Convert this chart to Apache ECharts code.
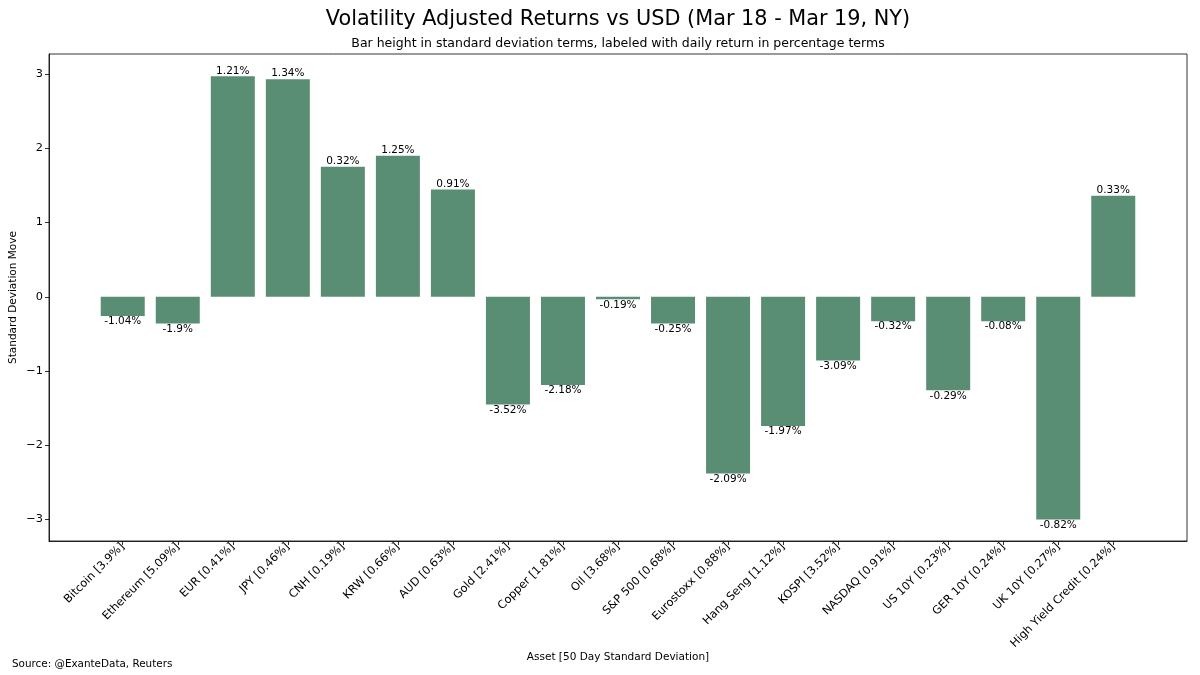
<!DOCTYPE html>
<html>
<head>
<meta charset="utf-8">
<script src="https://cdn.jsdelivr.net/npm/echarts@6/dist/echarts.min.js"></script>
<style>html,body{margin:0;padding:0;background:#fff}#c{width:1200px;height:675px}</style>
</head>
<body>
<div id="c"></div>
<script>
const categories = ['Bitcoin [3.9%]','Ethereum [5.09%]','EUR [0.41%]','JPY [0.46%]','CNH [0.19%]','KRW [0.66%]','AUD [0.63%]','Gold [2.41%]','Copper [1.81%]','Oil [3.68%]','S&P 500 [0.68%]','Eurostoxx [0.88%]','Hang Seng [1.12%]','KOSPI [3.52%]','NASDAQ [0.91%]','US 10Y [0.23%]','GER 10Y [0.24%]','UK 10Y [0.27%]','High Yield Credit [0.24%]'];
const sdMoves = [-0.26,-0.36,2.97,2.93,1.75,1.90,1.445,-1.45,-1.19,-0.035,-0.36,-2.38,-1.74,-0.86,-0.33,-1.26,-0.33,-3.00,1.36];
const dailyReturns = [-1.04,-1.9,1.21,1.34,0.32,1.25,0.91,-3.52,-2.18,-0.19,-0.25,-2.09,-1.97,-3.09,-0.32,-0.29,-0.08,-0.82,0.33];
const yTicks = [-3,-2,-1,0,1,2,3];

const font = 'DejaVu Sans';
const chart = echarts.init(document.getElementById('c'));
const xIdx = categories.map((_, i) => i);
const barData = sdMoves.map((v, i) => ({
  value: [i, v],
  label: {
    show: true,
    position: v >= 0 ? 'top' : 'bottom',
    distance: 0,
    formatter: dailyReturns[i] + '%'
  }
}));

chart.setOption({
  backgroundColor: '#fff',
  animation: false,
  title: [
    {text: 'Volatility Adjusted Returns vs USD (Mar 18 - Mar 19, NY)', left: 618, top: 9, textAlign: 'center', padding: 0,
     textStyle: {fontFamily: font, fontSize: 20.8, fontWeight: 'normal', color: '#000'}},
    {text: 'Bar height in standard deviation terms, labeled with daily return in percentage terms', left: 618, top: 37, textAlign: 'center', padding: 0,
     textStyle: {fontFamily: font, fontSize: 12.5, fontWeight: 'normal', color: '#000'}},
    {text: 'Source: @ExanteData, Reuters', left: 12, top: 659, padding: 0,
     textStyle: {fontFamily: font, fontSize: 10.4, fontWeight: 'normal', color: '#000'}}
  ],
  grid: {left: 49, right: 13, top: 54, bottom: 134, show: true, borderColor: '#000', borderWidth: 0.8, containLabel: false},
  xAxis: {
    type: 'value', min: -1.34, max: 19.34,
    name: 'Asset [50 Day Standard Deviation]', nameLocation: 'middle', nameGap: 111, nameMoveOverlap: false,
    nameTextStyle: {fontFamily: font, fontSize: 10.5, color: '#000'},
    axisLine: {show: true, onZero: false, lineStyle: {color: '#000', width: 0.8}},
    axisTick: {show: true, customValues: xIdx, length: 4, lineStyle: {color: '#000', width: 0.8}},
    axisLabel: {customValues: xIdx, rotate: 45, fontFamily: font, fontSize: 11.3, color: '#000', margin: 4,
      formatter: v => categories[Math.round(v)] || ''},
    splitLine: {show: false}
  },
  yAxis: {
    type: 'value', min: -3.29, max: 3.27,
    name: 'Standard Deviation Move', nameLocation: 'middle', nameGap: 30, nameMoveOverlap: false,
    nameTextStyle: {fontFamily: font, fontSize: 10.5, color: '#000'},
    axisLine: {show: true, onZero: false, lineStyle: {color: '#000', width: 0.8}},
    axisTick: {show: true, customValues: yTicks, length: 4, lineStyle: {color: '#000', width: 0.8}},
    axisLabel: {customValues: yTicks, fontFamily: font, fontSize: 11.3, color: '#000', margin: 6,
      formatter: v => (v < 0 ? '\u2212' + Math.abs(v) : String(v))},
    splitLine: {show: false}
  },
  series: [{
    type: 'bar', data: barData, barWidth: 44,
    itemStyle: {color: '#5a8e74'},
    label: {fontFamily: font, fontSize: 10.5, color: '#000'}
  }]
});
</script>
</body>
</html>
